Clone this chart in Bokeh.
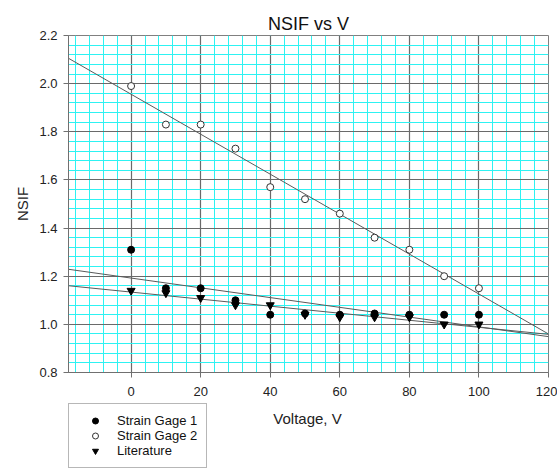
import numpy as np
from bokeh.plotting import figure
from bokeh.layouts import column
from bokeh.models import (Range1d, SingleIntervalTicker, PrintfTickFormatter,
                          Legend, LegendItem, Label)
from bokeh.embed import file_html
from bokeh.resources import INLINE

# ---- data ----
voltage = [0, 10, 20, 30, 40, 50, 60, 70, 80, 90, 100]
strain_gage_1 = [1.31, 1.15, 1.15, 1.10, 1.04, 1.045, 1.04, 1.045, 1.04, 1.04, 1.04]
strain_gage_2 = [1.99, 1.83, 1.83, 1.73, 1.57, 1.52, 1.46, 1.36, 1.31, 1.20, 1.15]
literature = [1.14, 1.13, 1.11, 1.08, 1.08, 1.04, 1.03, 1.03, 1.03, 1.00, 1.00]
x_range_limits = [-18, 120]
y_range_limits = [0.8, 2.2]
series_names = ["Strain Gage 1", "Strain Gage 2", "Literature"]

FONT = "Liberation Sans"

p = figure(width=557, height=402, output_backend="svg", toolbar_location=None,
           x_range=Range1d(*x_range_limits), y_range=Range1d(*y_range_limits),
           title="NSIF vs V", min_border_left=68, min_border_right=9,
           min_border_top=35, min_border_bottom=30)

p.background_fill_color = "white"
p.border_fill_color = "white"
p.outline_line_color = "#808080"

p.title.align = "center"
p.title.text_font = FONT
p.title.text_font_size = "18px"
p.title.text_font_style = "normal"
p.title.text_color = "#111111"
p.title.standoff = 4

p.xaxis.ticker = SingleIntervalTicker(interval=20, num_minor_ticks=5)
p.yaxis.ticker = SingleIntervalTicker(interval=0.2, num_minor_ticks=5)
p.yaxis.formatter = PrintfTickFormatter(format="%.1f")

for ax in (p.xaxis[0], p.yaxis[0]):
    ax.axis_line_color = "#707070"
    ax.major_tick_line_color = "#707070"
    ax.major_tick_in = 0
    ax.major_tick_out = 5
    ax.minor_tick_in = 0
    ax.minor_tick_out = 0
    ax.major_label_text_font = FONT
    ax.major_label_text_font_size = "13px"
    ax.major_label_text_color = "#222222"
    ax.axis_label_text_font = FONT
    ax.axis_label_text_font_size = "15px"
    ax.axis_label_text_font_style = "normal"
    ax.axis_label_text_color = "#222222"

p.yaxis.axis_label = "NSIF"
p.xaxis.major_label_standoff = 9
p.yaxis.major_label_standoff = 6
p.yaxis.axis_label_standoff = 5

for g in (p.xgrid[0], p.ygrid[0]):
    g.grid_line_color = "#6a6a6a"
    g.grid_line_width = 1.2
    g.minor_grid_line_color = "#2EF2F2"
    g.minor_grid_line_width = 1

# regression lines (least squares fits of each series)
xs_fit = np.array(x_range_limits, dtype=float)
for series in (strain_gage_2, strain_gage_1, literature):
    m, b = np.polyfit(voltage, series, 1)
    p.line(xs_fit, m * xs_fit + b, line_color="#5a5a5a", line_width=1)

styles = [dict(marker="circle", size=7, fill_color="black", line_color="black"),
          dict(marker="circle", size=7, fill_color="white", line_color="#333333"),
          dict(marker="inverted_triangle", size=8, fill_color="black", line_color="black")]
all_series = [strain_gage_1, strain_gage_2, literature]
for series, st in zip(all_series, styles):
    p.scatter(voltage, series, **st)

# ---- lower strip: x axis title and legend (outside the plot frame) ----
q = figure(width=557, height=66, output_backend="svg", toolbar_location=None,
           x_range=Range1d(*x_range_limits), y_range=Range1d(*y_range_limits),
           x_axis_location=None, y_axis_location=None,
           min_border_left=0, min_border_right=0, min_border_top=0, min_border_bottom=0)
q.outline_line_color = None
q.background_fill_color = "white"
q.border_fill_color = "white"
q.xgrid.visible = False
q.ygrid.visible = False

items = []
for name, series, st in zip(series_names, all_series, styles):
    r = q.scatter(voltage, series, **st)
    r.visible = False
    items.append(LegendItem(label=name, renderers=[r]))

# frames of the column are aligned, so screen x here is measured from the plot's left edge
legend = Legend(items=items, location=(0, 0))
legend.padding = 9
legend.spacing = 0
legend.margin = 0
legend.glyph_width = 34
legend.glyph_height = 15
legend.label_height = 15
legend.label_standoff = 5
legend.label_text_font = FONT
legend.label_text_font_size = "13px"
legend.label_text_color = "#111111"
legend.border_line_color = "#707070"
legend.border_line_width = 1
legend.background_fill_color = "white"
legend.background_fill_alpha = 1
q.add_layout(legend)

q.add_layout(Label(x=239, y=50, x_units="screen", y_units="screen", text="Voltage, V",
                   text_align="center", text_baseline="middle", text_font=FONT,
                   text_font_size="15px", text_color="#222222"))

layout = column(p, q, spacing=0)
open("out.html", "w").write(file_html(layout, INLINE))
